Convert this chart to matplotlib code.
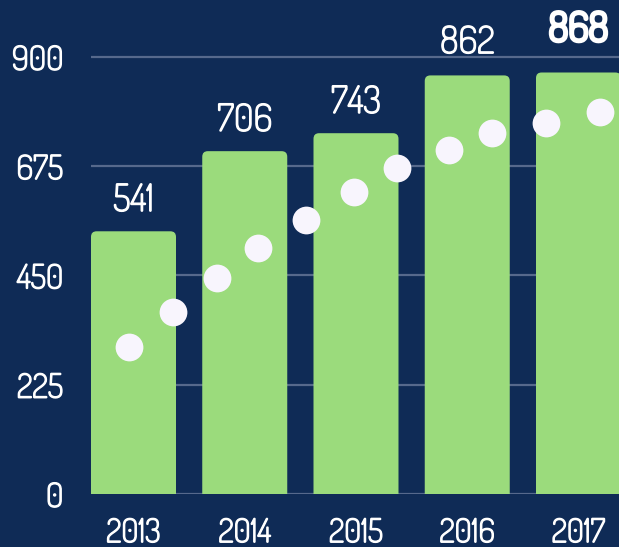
import matplotlib.pyplot as plt
import matplotlib.patheffects as pe
from matplotlib.patches import FancyBboxPatch

# data
years = ["2013", "2014", "2015", "2016", "2017"]
totals = [541, 706, 743, 862, 868]
dot_x = [-0.04, 0.355, 0.75, 1.12, 1.55, 1.985, 2.37, 2.84, 3.22, 3.705, 4.19]
dot_y = [302, 374, 445, 507, 565, 622, 672, 708, 744, 765, 787]
yticks = [0, 225, 450, 675, 900]

BG = "#0f2b56"
GREEN = "#9bdb7c"
GRID = "#56698c"
DOT = "#f8f5fd"

plt.rcParams['font.family'] = ['Dosis', 'DejaVu Sans']
thin = [pe.withStroke(linewidth=1.0, foreground="white")]
thick = [pe.withStroke(linewidth=2.6, foreground="white")]

fig = plt.figure(figsize=(6.19, 5.47), dpi=100, facecolor=BG)
# axes box in pixels: left 91, bottom 494, right 619, top ~8
ax = fig.add_axes([91 / 619, 53 / 547, 528 / 619, 485.6 / 547])
ax.set_facecolor(BG)

width = 0.764
ax.set_xlim(-width / 2, -width / 2 + 528 / 111.25)
ax.set_ylim(0, 1000)

# gridlines behind everything
for t in yticks:
    ax.axhline(t, color=GRID, lw=1.6, zorder=0)

# rounded bars (aspect makes corner radius round in pixels)
aspect = (900 / 437) * 111.25
for i, v in enumerate(totals):
    box = FancyBboxPatch((i - width / 2, -30), width, v + 30,
                         boxstyle="round,pad=0,rounding_size=0.05",
                         mutation_aspect=aspect, fc=GREEN, ec="none",
                         zorder=2, clip_on=True)
    ax.add_patch(box)

# value labels
offsets = [8, 8, 8, 9.5, 16]
for i, v in enumerate(totals):
    last = i == len(totals) - 1
    ax.annotate(str(v), (i, v), xytext=(0, offsets[i]), textcoords="offset points",
                ha="center", va="bottom", color="white",
                fontsize=29 if last else 27,
                path_effects=thick if last else thin,
                annotation_clip=False, zorder=5)

ax.scatter(dot_x, dot_y, s=400, color=DOT, zorder=4, linewidths=0, clip_on=False)

ax.set_yticks(yticks)
ax.set_yticklabels([str(t) for t in yticks])
ax.set_xticks(range(len(years)))
ax.set_xticklabels(years)
ax.tick_params(axis="y", length=0, pad=20, labelsize=24, labelcolor="white")
ax.tick_params(axis="x", length=0, pad=16, labelsize=23.5, labelcolor="white")
for lab in ax.get_xticklabels() + ax.get_yticklabels():
    lab.set_path_effects(thin)
for s in ax.spines.values():
    s.set_visible(False)

fig.savefig("out.png", dpi=100, facecolor=BG)
